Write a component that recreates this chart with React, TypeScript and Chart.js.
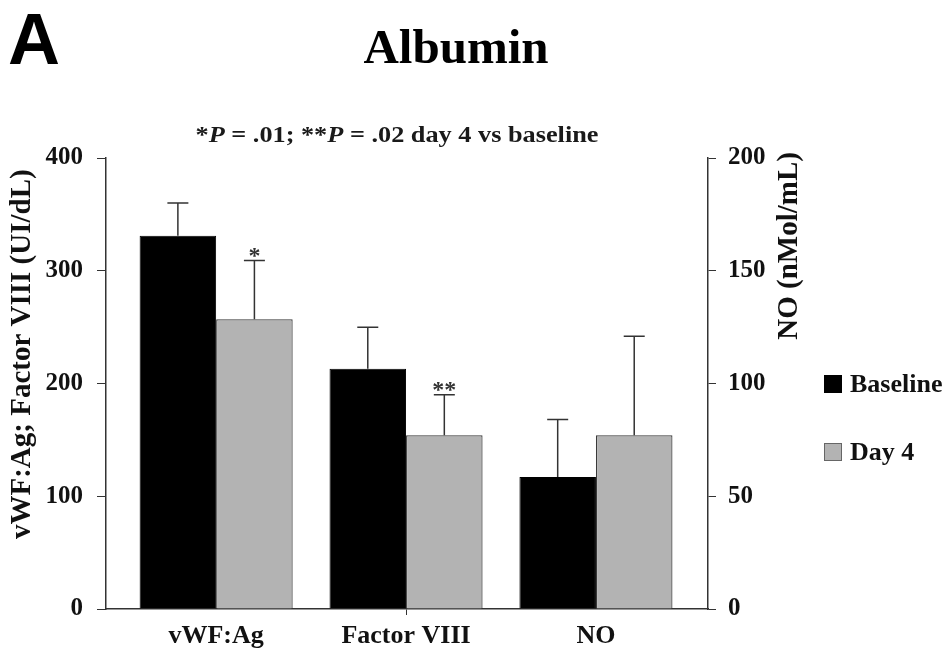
import React, { useEffect, useRef } from 'react';
import { Chart, registerables } from 'chart.js';

Chart.register(...registerables);

// ---------- data ----------
const categories = ['vWF:Ag', 'Factor VIII', 'NO'];
const seriesNames = ['Baseline', 'Day 4'];
// vWF:Ag and Factor VIII are read on the left axis (UI/dL), NO on the right axis (nMol/mL)
const baselineValues = [331, 213, 58.5];
const day4Values = [257, 154, 77];
const baselineUpper = [360, 250, 84];
const day4Upper = [309, 190, 121];
const axisOfCategory = ['y', 'y', 'y1'];
const day4Marks = ['*', '**', ''];
const leftTickValues = [0, 100, 200, 300, 400];
const rightTickValues = [0, 50, 100, 150, 200];
const panelLabel = 'A';
const mainTitle = 'Albumin';
const subtitleParts: [string, boolean][] = [
  ['*', false],
  ['P', true],
  [' = .01; **', false],
  ['P', true],
  [' = .02 day 4 vs baseline', false],
];
const leftTitle = 'vWF:Ag; Factor VIII (UI/dL)';
const rightTitle = 'NO (nMol/mL)';

// ---------- styles ----------
const SERIF = "'Liberation Serif', 'Times New Roman', serif";
const SANS = "'Liberation Sans', Arial, sans-serif";
const BASE_COLOR = '#000000';
const DAY4_COLOR = '#b3b3b3';
const AXIS_COLOR = '#333333';
const TEXT_COLOR = '#111111';

function points(values: number[], upper: number[], marks: string[] | null, axis: string) {
  const out: any[] = [];
  values.forEach((v, i) => {
    if (axisOfCategory[i] === axis) out.push({ x: i, y: v, upper: upper[i], mark: marks ? marks[i] : '' });
  });
  return out;
}

const decorPlugin = {
  id: 'decor',
  beforeDraw(chart: any) {
    const ctx = chart.ctx;
    ctx.save();
    ctx.fillStyle = '#ffffff';
    ctx.fillRect(0, 0, chart.width, chart.height);
    ctx.restore();
  },
  afterDatasetsDraw(chart: any) {
    const ctx = chart.ctx;
    ctx.save();
    chart.data.datasets.forEach((ds: any, d: number) => {
      const meta = chart.getDatasetMeta(d);
      meta.data.forEach((el: any, j: number) => {
        const raw = ds.data[j];
        const yTop = meta.vScale.getPixelForValue(raw.upper);
        ctx.strokeStyle = AXIS_COLOR;
        ctx.lineWidth = 1.5;
        ctx.beginPath();
        ctx.moveTo(el.x, el.y);
        ctx.lineTo(el.x, yTop);
        ctx.moveTo(el.x - 10.5, yTop);
        ctx.lineTo(el.x + 10.5, yTop);
        ctx.stroke();
        if (raw.mark) {
          ctx.fillStyle = '#333';
          ctx.font = `bold 24px ${SERIF}`;
          ctx.textAlign = 'center';
          ctx.textBaseline = 'alphabetic';
          ctx.fillText(raw.mark, el.x, yTop + 2);
        }
      });
    });
    ctx.restore();
  },
  afterDraw(chart: any) {
    const ctx = chart.ctx;
    const ca = chart.chartArea;
    ctx.save();
    ctx.fillStyle = '#000';
    ctx.textBaseline = 'alphabetic';
    // panel label
    ctx.font = `bold 72px ${SANS}`;
    ctx.textAlign = 'left';
    ctx.fillText(panelLabel, 8, 64);
    // main title
    ctx.font = `bold 49px ${SERIF}`;
    ctx.textAlign = 'center';
    ctx.fillText(mainTitle, 456, 63);
    // subtitle
    const fontFor = (it: boolean) => `${it ? 'italic ' : ''}bold 23px ${SERIF}`;
    let total = 0;
    subtitleParts.forEach(([t, it]) => {
      ctx.font = fontFor(it);
      total += ctx.measureText(t).width;
    });
    const targetW = 403;
    const sx = targetW / total;
    ctx.save();
    ctx.translate(397 - targetW / 2, 142);
    ctx.scale(sx, 1);
    ctx.textAlign = 'left';
    ctx.fillStyle = '#1a1a1a';
    let x = 0;
    subtitleParts.forEach(([t, it]) => {
      ctx.font = fontFor(it);
      ctx.fillText(t, x, 0);
      x += ctx.measureText(t).width;
    });
    ctx.restore();
    // left axis title
    ctx.save();
    ctx.translate(23, ca.top + ca.height * 0.435);
    ctx.rotate(-Math.PI / 2);
    ctx.font = `bold 29px ${SERIF}`;
    ctx.textAlign = 'center';
    ctx.textBaseline = 'middle';
    ctx.fillStyle = TEXT_COLOR;
    ctx.fillText(leftTitle, 0, 0);
    ctx.restore();
    // right axis title
    ctx.save();
    ctx.translate(ca.right + 82, ca.top - 6);
    ctx.rotate(-Math.PI / 2);
    ctx.font = `bold 29px ${SERIF}`;
    ctx.textAlign = 'right';
    ctx.textBaseline = 'middle';
    ctx.fillStyle = TEXT_COLOR;
    ctx.fillText(rightTitle, 0, 0);
    ctx.restore();
    // legend
    const items = [chart.data.datasets[0], chart.data.datasets[1]];
    items.forEach((ds: any, i: number) => {
      const cy = 384 + i * 68;
      const bx = 824;
      ctx.fillStyle = ds.backgroundColor;
      ctx.fillRect(bx, cy - 9, 18, 18);
      ctx.strokeStyle = i === 0 ? '#000' : '#666';
      ctx.lineWidth = 1;
      ctx.strokeRect(bx + 0.5, cy - 8.5, 17, 17);
      ctx.fillStyle = TEXT_COLOR;
      ctx.font = `bold 26px ${SERIF}`;
      ctx.textAlign = 'left';
      ctx.textBaseline = 'alphabetic';
      ctx.fillText(ds.label, 850, cy + 8);
    });
    ctx.restore();
  },
};

export default function App() {
  const ref = useRef<HTMLCanvasElement | null>(null);
  useEffect(() => {
    if (!ref.current) return;
    const tickFont = { family: SERIF, size: 25, weight: 'bold' as const };
    const chart = new Chart(ref.current, {
      type: 'bar',
      data: {
        datasets: [
          {
            label: seriesNames[0],
            stack: 'baseline',
            yAxisID: 'y',
            data: points(baselineValues, baselineUpper, null, 'y'),
            backgroundColor: BASE_COLOR,
            borderColor: '#000',
            borderWidth: 1,
          },
          {
            label: seriesNames[1],
            stack: 'day4',
            yAxisID: 'y',
            data: points(day4Values, day4Upper, day4Marks, 'y'),
            backgroundColor: DAY4_COLOR,
            borderColor: '#3a3a3a',
            borderWidth: 1.2,
          },
          {
            label: seriesNames[0],
            stack: 'baseline',
            yAxisID: 'y1',
            data: points(baselineValues, baselineUpper, null, 'y1'),
            backgroundColor: BASE_COLOR,
            borderColor: '#000',
            borderWidth: 1,
          },
          {
            label: seriesNames[1],
            stack: 'day4',
            yAxisID: 'y1',
            data: points(day4Values, day4Upper, day4Marks, 'y1'),
            backgroundColor: DAY4_COLOR,
            borderColor: '#3a3a3a',
            borderWidth: 1.2,
          },
        ] as any,
      },
      options: {
        animation: false,
        responsive: false,
        devicePixelRatio: 1,
        layout: { padding: { top: 158, left: 0, right: 0, bottom: 0 } },
        datasets: { bar: { categoryPercentage: 0.806, barPercentage: 1.0 } } as any,
        plugins: { legend: { display: false }, tooltip: { enabled: false }, title: { display: false } },
        scales: {
          x: {
            type: 'linear',
            min: -0.58,
            max: 2.59,
            bounds: 'data',
            stacked: true,
            offset: false,
            afterBuildTicks: (s: any) => {
              s.ticks = categories.map((_, i) => ({ value: i }));
            },
            afterFit: (s: any) => {
              s.height = 47;
            },
            ticks: {
              callback: (v: any) => categories[v] ?? '',
              font: { family: SERIF, size: 26, weight: 'bold' },
              color: TEXT_COLOR,
              padding: 6,
              maxRotation: 0,
              autoSkip: false,
            },
            grid: {
              display: true,
              offset: false,
              drawOnChartArea: false,
              drawTicks: true,
              tickLength: 6,
              color: 'rgba(0,0,0,0)',
              tickColor: (c: any) => (c.index === 1 ? AXIS_COLOR : 'rgba(0,0,0,0)'),
            },
            border: { display: true, color: AXIS_COLOR, width: 1.5 },
          } as any,
          y: {
            type: 'linear',
            position: 'left',
            min: 0,
            max: 400,
            stacked: false,
            afterBuildTicks: (s: any) => {
              s.ticks = leftTickValues.map((v) => ({ value: v }));
            },
            afterFit: (s: any) => {
              s.width = 106;
            },
            ticks: { font: tickFont, color: TEXT_COLOR, padding: 14 },
            grid: { display: true, drawOnChartArea: false, drawTicks: true, tickLength: 9, color: AXIS_COLOR, tickColor: AXIS_COLOR },
            border: { display: true, color: AXIS_COLOR, width: 1.5 },
          } as any,
          y1: {
            type: 'linear',
            position: 'right',
            min: 0,
            max: 200,
            stacked: false,
            afterBuildTicks: (s: any) => {
              s.ticks = rightTickValues.map((v) => ({ value: v }));
            },
            afterFit: (s: any) => {
              s.width = 238;
            },
            ticks: { font: tickFont, color: TEXT_COLOR, padding: 12 },
            grid: { display: true, drawOnChartArea: false, drawTicks: true, tickLength: 8, color: AXIS_COLOR, tickColor: AXIS_COLOR },
            border: { display: true, color: AXIS_COLOR, width: 1.5 },
          } as any,
        },
      },
      plugins: [decorPlugin],
    });
    return () => chart.destroy();
  }, []);
  return (
    <div style={{ position: 'absolute', left: 0, top: 0, width: 946, height: 656 }}>
      <canvas ref={ref} width={946} height={656} style={{ display: 'block' }} />
    </div>
  );
}
